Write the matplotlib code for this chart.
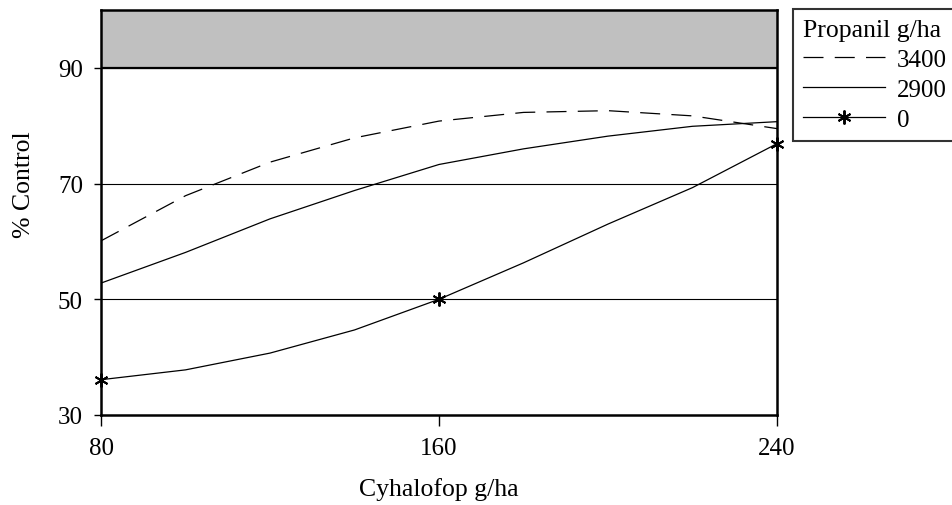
import matplotlib
matplotlib.use("Agg")
import matplotlib.pyplot as plt

plt.rcParams['font.family'] = ['Liberation Serif', 'DejaVu Serif']

# values
cyhalofop = [80, 100, 120, 140, 160, 180, 200, 220, 240]
propanil_3400 = [60.1, 67.9, 73.7, 77.9, 80.8, 82.3, 82.6, 81.7, 79.5]
propanil_2900 = [52.8, 58.1, 63.9, 68.8, 73.3, 76.0, 78.2, 79.9, 80.7]
propanil_0 = [36.1, 37.8, 40.7, 44.7, 50.0, 56.3, 63.0, 69.3, 76.9]

obs_x = [80, 160, 240]
obs_0 = [36.1, 50.0, 76.9]

x_ticks = [80, 160, 240]
y_ticks = [30, 50, 70, 90]

fig = plt.figure(figsize=(9.53, 5.06), dpi=100)
ax = fig.add_axes([101/953, 1 - 416/506, 676/953, 405/506])

ax.axhspan(90, 100, color='#c0c0c0', zorder=0)
ax.axhline(90, color='black', lw=1.6, zorder=2)
for g in [50, 70]:
    ax.axhline(g, color='black', lw=0.8, zorder=1)

ax.plot(cyhalofop, propanil_3400, color='black', lw=0.9, dashes=(16, 9), label='3400', zorder=3)
ax.plot(cyhalofop, propanil_2900, color='black', lw=0.9, label='2900', zorder=3)
ax.plot(cyhalofop, propanil_0, color='black', lw=0.9, zorder=3)
ax.plot(obs_x, obs_0, ls='none', marker=(6, 2, 0), ms=10, mew=1.4, color='black',
        zorder=4, clip_on=False)
# legend proxy for the 0 series: line with asterisk
ax.plot([], [], color='black', lw=0.9, marker=(6, 2, 0), ms=10, mew=1.4, label='0')

ax.set_xlim(80, 240)
ax.set_ylim(30, 100)
ax.set_xticks(x_ticks)
ax.set_yticks(y_ticks)
ax.tick_params(axis='x', direction='out', length=8, width=1, pad=8, labelsize=18)
ax.tick_params(axis='y', direction='out', length=5, width=1, pad=8, labelsize=18)
for s in ax.spines.values():
    s.set_linewidth(1.8)

ax.set_xlabel('Cyhalofop g/ha', fontsize=18.5, va='baseline')
ax.xaxis.set_label_coords(0.5, -(496 - 416) / 405)
ax.set_ylabel('% Control', fontsize=18.5, va='center')
ax.yaxis.set_label_coords((24 - 101) / 676, (416 - 184.5) / 405)

leg = fig.legend(title='Propanil g/ha', loc='upper left',
                 bbox_to_anchor=(793/953, 1 - 10/506), fontsize=18,
                 title_fontsize=18.5, frameon=True, fancybox=False,
                 edgecolor='black', handlelength=3.3, handletextpad=0.45,
                 labelspacing=0.3, borderpad=0.4, numpoints=1,
                 alignment='left', borderaxespad=0)
leg.get_frame().set_linewidth(1.5)

fig.savefig('out.png', dpi=100)
